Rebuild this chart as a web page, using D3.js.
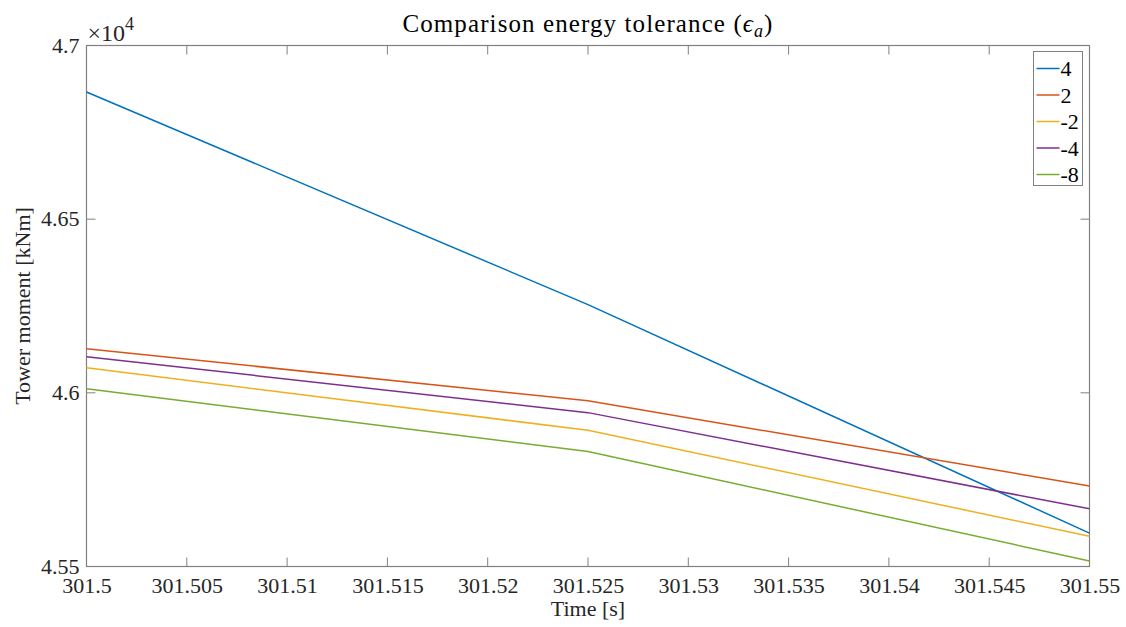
<!DOCTYPE html>
<html>
<head>
<meta charset="utf-8">
<script src="https://cdn.jsdelivr.net/npm/d3@7"></script>
<style>
  html, body { margin: 0; padding: 0; background: #fff; }
  svg { display: block; font-family: "Liberation Serif", "DejaVu Serif", "Noto Serif", "Times", serif; }
</style>
</head>
<body>
<svg id="chart" width="1126" height="627"></svg>
<script>
// Sample times [s]
const times = [301.5, 301.525, 301.55];

// Tower moment [kNm] for each energy tolerance exponent
const seriesNames = ["4", "2", "-2", "-4", "-8"];
const seriesColors = ["#0072BD", "#D95319", "#EDB120", "#7E2F8E", "#77AC30"];
const moment4  = [46866, 46254, 45596];
const moment2  = [46127, 45977, 45732];
const momentM2 = [46072, 45892, 45587];
const momentM4 = [46104, 45943, 45666];
const momentM8 = [46012, 45831, 45516];
const seriesValues = [moment4, moment2, momentM2, momentM4, momentM8];

// Axis ticks
const xTicks = [301.5, 301.505, 301.51, 301.515, 301.52, 301.525, 301.53, 301.535, 301.54, 301.545, 301.55];
const xTickLabels = ["301.5", "301.505", "301.51", "301.515", "301.52", "301.525", "301.53", "301.535", "301.54", "301.545", "301.55"];
const yTicks = [45500, 46000, 46500, 47000];
const yTickLabels = ["4.55", "4.6", "4.65", "4.7"];

const FONT = '"Liberation Serif", "DejaVu Serif", "Noto Serif", "Times", serif';
const svg = d3.select("#chart");
const plot = { left: 86.5, right: 1089.5, top: 45.5, bottom: 566.5 };
const axisColor = "#808080";
const textColor = "#262626";

const x = d3.scaleLinear().domain([301.5, 301.55]).range([plot.left, plot.right]);
const y = d3.scaleLinear().domain([45500, 47000]).range([plot.bottom, plot.top]);

// Box around the axes
svg.append("rect")
  .attr("x", plot.left).attr("y", plot.top)
  .attr("width", plot.right - plot.left).attr("height", plot.bottom - plot.top)
  .attr("fill", "#fff").attr("stroke", axisColor).attr("stroke-width", 1.2);

const tickLen = 9;
const xAxis = d3.axisBottom(x).tickValues(xTicks).tickSize(0)
  .tickFormat((d, i) => xTickLabels[i]).tickPadding(11);
const gx = svg.append("g").attr("transform", `translate(0,${plot.bottom})`).call(xAxis)
  .attr("font-family", FONT).attr("font-size", 22);
gx.select(".domain").remove();
gx.selectAll("text").attr("fill", textColor).attr("dy", "0.71em");

const yAxis = d3.axisLeft(y).tickValues(yTicks).tickSize(0)
  .tickFormat((d, i) => yTickLabels[i]).tickPadding(7);
const gy = svg.append("g").attr("transform", `translate(${plot.left},0)`).call(yAxis)
  .attr("font-family", FONT).attr("font-size", 22);
gy.select(".domain").remove();
gy.selectAll("text").attr("fill", textColor).attr("dy", "0.3em");

// Inward tick marks on all four sides
const ticks = svg.append("g").attr("stroke", axisColor).attr("stroke-width", 1);
xTicks.forEach(t => {
  ticks.append("line").attr("x1", x(t)).attr("x2", x(t)).attr("y1", plot.bottom).attr("y2", plot.bottom - tickLen);
  ticks.append("line").attr("x1", x(t)).attr("x2", x(t)).attr("y1", plot.top).attr("y2", plot.top + tickLen);
});
yTicks.forEach(t => {
  ticks.append("line").attr("x1", plot.left).attr("x2", plot.left + tickLen).attr("y1", y(t)).attr("y2", y(t));
  ticks.append("line").attr("x1", plot.right).attr("x2", plot.right - tickLen).attr("y1", y(t)).attr("y2", y(t));
});

// Series lines
const line = d3.line().x((d, i) => x(times[i])).y(d => y(d));
seriesValues.forEach((vals, k) => {
  svg.append("path").datum(vals)
    .attr("d", line)
    .attr("fill", "none")
    .attr("stroke", seriesColors[k])
    .attr("stroke-width", 1.5);
});

// Exponent label
const expo = svg.append("text").attr("x", plot.left + 1).attr("y", 41)
  .attr("fill", textColor).style("font-size", "24px");
expo.append("tspan").text("×10");
expo.append("tspan").attr("dy", -11).style("font-size", "18px").text("4");

// Title
svg.append("text").attr("x", (plot.left + plot.right) / 2).attr("y", 32)
  .attr("text-anchor", "middle").attr("fill", "#000").style("font-size", "25px")
  .style("letter-spacing", "1.1px")
  .html('Comparison energy tolerance (<tspan font-style="italic">ϵ</tspan><tspan font-style="italic" dy="5" font-size="18px">a</tspan><tspan dy="-5">)</tspan>');

// Axis labels
svg.append("text").attr("x", (plot.left + plot.right) / 2).attr("y", 616)
  .attr("text-anchor", "middle").attr("fill", textColor).style("font-size", "22px")
  .text("Time [s]");
svg.append("text")
  .attr("transform", `translate(30,${(plot.top + plot.bottom) / 2}) rotate(-90)`)
  .attr("text-anchor", "middle").attr("fill", textColor).style("font-size", "22px")
  .text("Tower moment [kNm]");

// Legend
const lg = svg.append("g");
const lgBox = { x: 1033.5, y: 51.5, w: 49, h: 134 };
lg.append("rect").attr("x", lgBox.x).attr("y", lgBox.y).attr("width", lgBox.w).attr("height", lgBox.h)
  .attr("fill", "#fff").attr("stroke", axisColor).attr("stroke-width", 1);
seriesNames.forEach((name, k) => {
  const cy = 68.5 + k * 26.5;
  lg.append("line").attr("x1", lgBox.x + 3).attr("x2", lgBox.x + 26).attr("y1", cy).attr("y2", cy)
    .attr("stroke", seriesColors[k]).attr("stroke-width", 1.5);
  lg.append("text").attr("x", lgBox.x + 27).attr("y", cy).attr("dy", "0.35em")
    .attr("fill", "#000").style("font-size", "22px").text(name);
});
</script>
</body>
</html>
